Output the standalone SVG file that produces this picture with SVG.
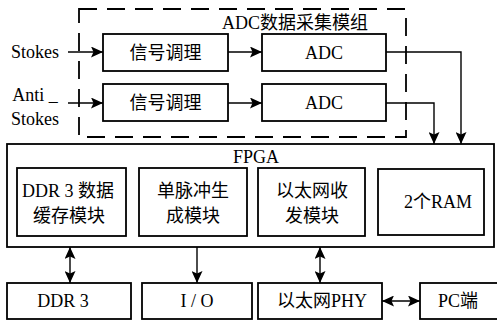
<svg xmlns="http://www.w3.org/2000/svg" width="497" height="322" viewBox="0 0 497 322">
<defs>
<marker id="ah" viewBox="0 0 12 11" refX="12" refY="5.5" markerWidth="12" markerHeight="11" markerUnits="userSpaceOnUse" orient="auto-start-reverse">
<path d="M0,0 L12,5.5 L0,11 L2.5,5.5 Z" fill="#000"/>
</marker>
</defs>
<style>
.b{fill:#fff;stroke:#000;stroke-width:1.8}
.t{font-family:"Liberation Serif","Times New Roman","Noto Sans CJK SC",serif;font-size:18px;fill:#000}
.c{stroke:#000;stroke-width:1.4;fill:none}
</style>
<rect width="497" height="322" fill="#fff"/>
<g id="adc-module">
<rect x="79" y="9" width="327" height="128" fill="none" stroke="#000" stroke-width="1.8" stroke-dasharray="18 10"/>
<text class="t" x="295" y="29" text-anchor="middle">ADC数据采集模组</text>
</g>
<g id="in-stokes"><text class="t" x="35" y="58" text-anchor="middle">Stokes</text></g>
<g id="in-anti"><text class="t" x="35" y="101" text-anchor="middle">Anti _</text><text class="t" x="35" y="125" text-anchor="middle">Stokes</text></g>
<g id="sig1"><rect class="b" x="103" y="34" width="125" height="37"/><text class="t" x="165.5" y="59" text-anchor="middle">信号调理</text></g>
<g id="sig2"><rect class="b" x="103" y="84" width="125" height="37"/><text class="t" x="165.5" y="109" text-anchor="middle">信号调理</text></g>
<g id="adc1"><rect class="b" x="262" y="34" width="124" height="37"/><text class="t" x="324" y="59" text-anchor="middle">ADC</text></g>
<g id="adc2"><rect class="b" x="262" y="84" width="124" height="37"/><text class="t" x="324" y="109" text-anchor="middle">ADC</text></g>
<g id="fpga"><rect class="b" x="7" y="144" width="487" height="103"/><text class="t" x="256" y="163" text-anchor="middle">FPGA</text></g>
<g id="ddr-module"><rect class="b" x="17" y="168" width="109" height="68"/><text class="t" x="68" y="197" text-anchor="middle">DDR 3 数据</text><text class="t" x="69" y="222" text-anchor="middle">缓存模块</text></g>
<g id="pulse"><rect class="b" x="139" y="168" width="108" height="68"/><text class="t" x="193" y="197" text-anchor="middle">单脉冲生</text><text class="t" x="193" y="222" text-anchor="middle">成模块</text></g>
<g id="eth-module"><rect class="b" x="258" y="168" width="107" height="68"/><text class="t" x="312" y="197" text-anchor="middle">以太网收</text><text class="t" x="312" y="222" text-anchor="middle">发模块</text></g>
<g id="ram"><rect class="b" x="378" y="169" width="106" height="66"/><text class="t" x="438" y="208" text-anchor="middle">2个RAM</text></g>
<g id="ddr3"><rect class="b" x="7" y="283" width="124" height="36"/><text class="t" x="63" y="307" text-anchor="middle">DDR 3</text></g>
<g id="io"><rect class="b" x="142" y="283" width="110" height="36"/><text class="t" x="197" y="307" text-anchor="middle">I / O</text></g>
<g id="phy"><rect class="b" x="258" y="283" width="124" height="36"/><text class="t" x="322" y="307" text-anchor="middle">以太网PHY</text></g>
<g id="pc"><rect class="b" x="420" y="283" width="80" height="36"/><text class="t" x="458" y="307" text-anchor="middle">PC端</text></g>
<g id="connectors">
<line class="c" x1="68" y1="52" x2="103" y2="52" marker-end="url(#ah)"/>
<line class="c" x1="68" y1="103" x2="103" y2="103" marker-end="url(#ah)"/>
<line class="c" x1="228" y1="52" x2="262" y2="52" marker-end="url(#ah)"/>
<line class="c" x1="228" y1="103" x2="262" y2="103" marker-end="url(#ah)"/>
<polyline class="c" points="386,52 461,52 461,144" marker-end="url(#ah)"/>
<polyline class="c" points="386,103 434,103 434,144" marker-end="url(#ah)"/>
<line class="c" x1="70" y1="247" x2="70" y2="283" marker-start="url(#ah)" marker-end="url(#ah)"/>
<line class="c" x1="197" y1="247" x2="197" y2="283" marker-end="url(#ah)"/>
<line class="c" x1="320" y1="247" x2="320" y2="283" marker-start="url(#ah)" marker-end="url(#ah)"/>
<line class="c" x1="382" y1="301" x2="420" y2="301" marker-start="url(#ah)" marker-end="url(#ah)"/>
</g>
</svg>
